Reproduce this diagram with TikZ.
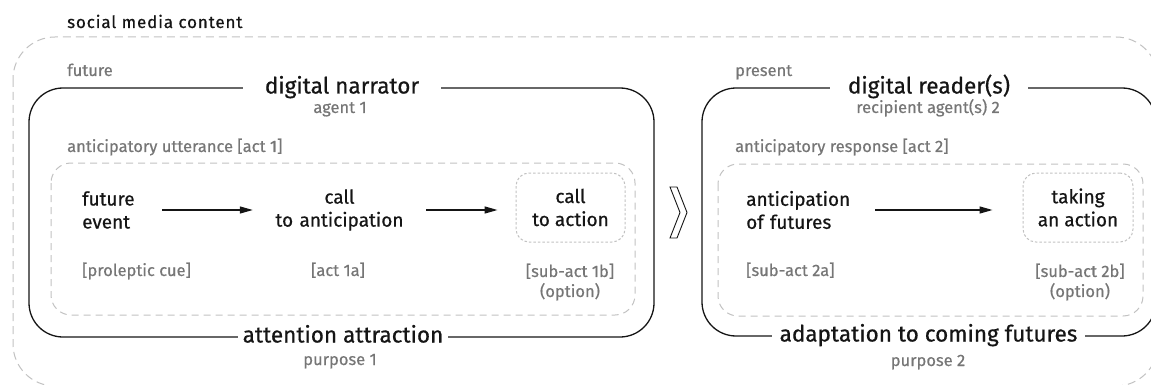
\documentclass[tikz,border=0pt]{standalone}
\usepackage{fontspec}
\setmainfont{Fira Sans}[FakeBold=0.6]
\usetikzlibrary{arrows.meta}
\definecolor{ink}{HTML}{151515}
\definecolor{txtgray}{HTML}{767676}
\definecolor{dashgray}{HTML}{C2C2C2}
\begin{document}
\begin{tikzpicture}[x=1pt,y=-1pt,
  title/.style={font=\fontsize{22.5}{26}\selectfont, text=ink, inner sep=0pt, text height=16pt, text depth=5pt},
  body/.style={font=\fontsize{19}{23}\selectfont, text=ink, inner sep=0pt},
  small/.style={font=\fontsize{16.5}{20}\selectfont, text=txtgray, inner sep=0pt},
  frame/.style={draw=ink, line width=1.3pt},
  outerdash/.style={draw=dashgray, line width=1pt, dash pattern=on 8pt off 5pt},
  innerdash/.style={draw=dashgray, line width=1pt, dash pattern=on 7pt off 5pt},
  dotbox/.style={draw=dashgray, line width=1pt, dash pattern=on 2.5pt off 2pt, rounded corners=13pt},
  arr/.style={draw=ink, line width=1.3pt, -{Triangle[length=13pt,width=7pt]}}
]
\useasboundingbox (0,0) rectangle (1151,385);
\clip (0,0) rectangle (1151,385);

% outer container
\draw[outerdash, rounded corners=42pt] (13,37) rectangle (1158,386);
\node[text=ink, inner sep=0pt, anchor=base west, font=\fontsize{17}{20}\selectfont\addfontfeature{LetterSpace=5}] (smc) at (67,28) {social media content};

% ---------- left panel ----------
\node[small, anchor=base west] (fut) at (67,76) {future};
\node[title, minimum width=198pt] (nar) at (342,88) {digital narrator};
\node[small, anchor=base] (ag1) at (340,113) {agent 1};
\node[title, minimum width=210pt] (att) at (343,337) {attention attraction};
\node[small, anchor=base] (pu1) at (340,365) {purpose 1};
\draw[frame, rounded corners=34pt] (nar.west |- 0,88) -- (29,88) -- (29,337) -- (att.west |- 0,337);
\draw[frame, rounded corners=34pt] (att.east |- 0,337) -- (654,337) -- (654,88) -- (nar.east |- 0,88);

\node[small, anchor=base west] (utt) at (67,152) {anticipatory utterance [act 1]};
\draw[innerdash, rounded corners=20pt] (51,163) rectangle (635,315);

\node[body, anchor=west, text width=80pt, align=left] (fe) at (82,210) {future\\event};
\node[body, text width=173pt, align=center] (cta) at (339.5,210) {call\\to anticipation};
\node[body, dotbox, minimum width=109pt, minimum height=69pt, align=center] (cac) at (570.5,207.5) {call\\to action};
\draw[arr] (fe.east) -- (cta.west);
\draw[arr, shorten >=18pt] (cta.east) -- (cta.east -| cac.west);

\node[small, anchor=base west] (l1) at (82,276) {[proleptic cue]};
\node[small, anchor=base] (l2) at (338,276) {[act 1a]};
\node[small, align=center] (l3) at (570,282) {[sub-act 1b]\\(option)};

% chevron between panels
\draw[draw=ink, line width=0.9pt, line join=miter] (670,187) -- (677,187) -- (687,212.5) -- (677,238) -- (670,238) -- (680,212.5) -- cycle;

% ---------- right panel ----------
\node[small, anchor=base west] (pre) at (735,76) {present};
\node[title, minimum width=198pt] (rdr) at (929,88) {digital reader(s)};
\node[small, anchor=base] (ag2) at (928,113) {recipient agent(s) 2};
\node[title, minimum width=313pt] (ada) at (928.5,336) {adaptation to coming futures};
\node[small, anchor=base] (pu2) at (928,366) {purpose 2};
\draw[frame, rounded corners=34pt] (rdr.west |- 0,88) -- (702,88) -- (702,336) -- (ada.west |- 0,336);
\draw[frame, rounded corners=34pt] (ada.east |- 0,336) -- (1156,336) -- (1156,88) -- (rdr.east |- 0,88);

\node[small, anchor=base west] (rsp) at (735,152) {anticipatory response [act 2]};
\draw[innerdash, rounded corners=20pt] (718,164) rectangle (1143,316);

\node[body, anchor=west, text width=129pt, align=left] (aof) at (746,210) {anticipation\\of futures};
\node[body, dotbox, minimum width=110pt, minimum height=69pt, align=center] (taa) at (1078,207.5) {taking\\an action};
\draw[arr, shorten >=30pt] (aof.east) -- (aof.east -| taa.west);

\node[small, anchor=base west] (l4) at (746,276) {[sub-act 2a]};
\node[small, align=center] (l5) at (1080,282) {[sub-act 2b]\\(option)};
\end{tikzpicture}
\end{document}
